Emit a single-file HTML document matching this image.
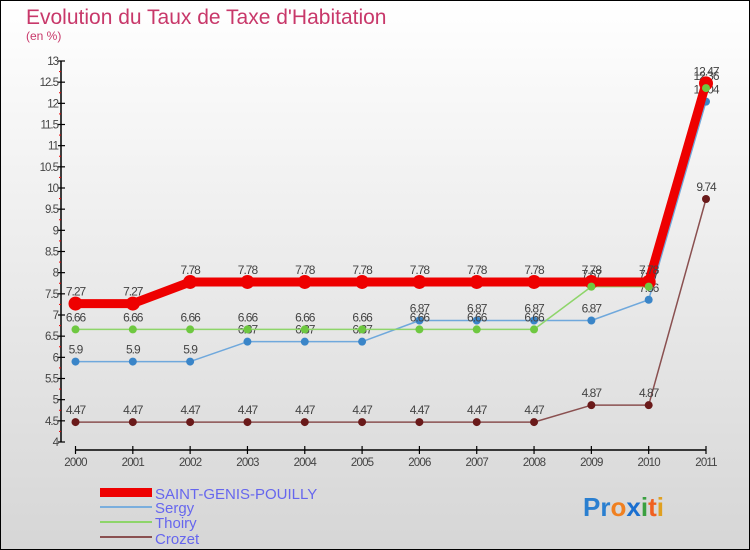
<!DOCTYPE html>
<html><head><meta charset="utf-8"><style>
body{margin:0}
svg{display:block;font-family:"Liberation Sans",sans-serif}
</style></head><body>
<svg id="c" width="750" height="550" viewBox="0 0 750 550">
<defs><linearGradient id="bg" x1="0" y1="0" x2="0" y2="1"><stop offset="0" stop-color="#ffffff"/><stop offset="1" stop-color="#d6d6d6"/></linearGradient></defs>
<rect x="0.5" y="0.5" width="749" height="549" fill="url(#bg)" stroke="#000"/>
<text x="26" y="24" font-size="21" fill="#c8386a" font-weight="300">Evolution du Taux de Taxe d'Habitation</text>
<text x="26" y="40" font-size="12" fill="#c8386a">(en %)</text>
<g id="axes"></g>
<g id="series"></g>
<g id="legend">
<rect x="100" y="488" width="52" height="9" fill="#e00"/>
<text x="155" y="499" font-size="15" fill="#6666ee">SAINT-GENIS-POUILLY</text>
<line x1="100" y1="507" x2="152" y2="507" stroke="#7aaedd" stroke-width="2"/>
<text x="155" y="513" font-size="15" fill="#6666ee">Sergy</text>
<line x1="100" y1="522" x2="152" y2="522" stroke="#8ed56a" stroke-width="2"/>
<text x="155" y="528" font-size="15" fill="#6666ee">Thoiry</text>
<line x1="100" y1="537" x2="152" y2="537" stroke="#8a5050" stroke-width="2"/>
<text x="155" y="544" font-size="15" fill="#6666ee">Crozet</text>
</g>
<text x="583" y="516" font-size="26" font-weight="bold"><tspan fill="#2a7fd0">Pr</tspan><tspan fill="#f08020">o</tspan><tspan fill="#1a6fd0">x</tspan><tspan fill="#3aa040">i</tspan><tspan fill="#f06020">t</tspan><tspan fill="#e0a020">i</tspan></text>
</svg>
<script>
const years=["2000","2001","2002","2003","2004","2005","2006","2007","2008","2009","2010","2011"];
const yTicks=[4,4.5,5,5.5,6,6.5,7,7.5,8,8.5,9,9.5,10,10.5,11,11.5,12,12.5,13];
const sgp=[7.27,7.27,7.78,7.78,7.78,7.78,7.78,7.78,7.78,7.78,7.78,12.47];
const sergy=[5.9,5.9,5.9,6.37,6.37,6.37,6.87,6.87,6.87,6.87,7.36,12.04];
const thoiry=[6.66,6.66,6.66,6.66,6.66,6.66,6.66,6.66,6.66,7.67,7.67,12.36];
const crozet=[4.47,4.47,4.47,4.47,4.47,4.47,4.47,4.47,4.47,4.87,4.87,9.74];
const NS="http://www.w3.org/2000/svg";
function X(i){return 75.5+i*(706-75.5)/11;}
function Y(v){return 442-(v-4)*(442-61)/9;}
function mk(t,a,p){const e=document.createElementNS(NS,t);for(const k in a)e.setAttribute(k,a[k]);p.appendChild(e);return e;}
const ax=document.getElementById('axes');
let l=mk('line',{x1:61,y1:61,x2:61,y2:442,stroke:'#000','stroke-width':1.5},ax);


yTicks.forEach(v=>{
 const y=Y(v);
 const t=mk('line',{x1:58,y1:y,x2:65,y2:y,stroke:'#000','stroke-width':1.2},ax);
 
 
 const tx=mk('text',{x:58,y:y+4,'font-size':11.5,'text-anchor':'end',fill:'#444','letter-spacing':'-1'},ax);
 
 
 tx.textContent=String(v);
 if(v<13){const m=mk('line',{x1:59,y1:Y(v+0.25),x2:61,y2:Y(v+0.25),stroke:'#e00','stroke-width':1},ax);
 
 }
});
l=mk('line',{x1:75.5,y1:450,x2:706,y2:450,stroke:'#000','stroke-width':1.5},ax);


years.forEach((yr,i)=>{
 const t=mk('line',{x1:X(i),y1:446,x2:X(i),y2:454,stroke:'#000','stroke-width':1.2},ax);
 
 
 const tx=mk('text',{x:X(i),y:466,'font-size':11.5,'text-anchor':'middle',fill:'#444','letter-spacing':'-0.8'},ax);
 
 
 tx.textContent=yr;
});
const sg=document.getElementById('series');
function series(vals,color,w,r,name,dot){
 const g=mk('g',{},sg);
 
 
 const p=mk('polyline',{points:vals.map((v,i)=>X(i)+','+Y(v)).join(' '),fill:'none',stroke:color,'stroke-width':w,'stroke-linejoin':'round'},g);
 
 
 vals.forEach((v,i)=>{
  const c=mk('circle',{cx:X(i),cy:Y(v),r:r,fill:dot},g);
  
  
  const t=mk('text',{x:X(i),y:Y(v)-8,'font-size':12,'text-anchor':'middle',fill:'#444','letter-spacing':'-1'},g);
  
  
  t.textContent=String(v);
 });
}
series(crozet,'#8a5050',1.5,4,'crozet','#6a1a1a');
series(sergy,'#6fa8dc',1.5,4,'sergy','#3a85c8');
series(thoiry,'#8ed56a',1.5,4,'thoiry','#6ec840');
series(sgp,'#ee0000',9,7,'saint-genis','#ee0000');
thoiry.forEach((v,i)=>{if(i>=9){const c=mk('circle',{cx:X(i),cy:Y(v),r:4,fill:'#6ec840'},sg);

}});
</script>
</body></html>
